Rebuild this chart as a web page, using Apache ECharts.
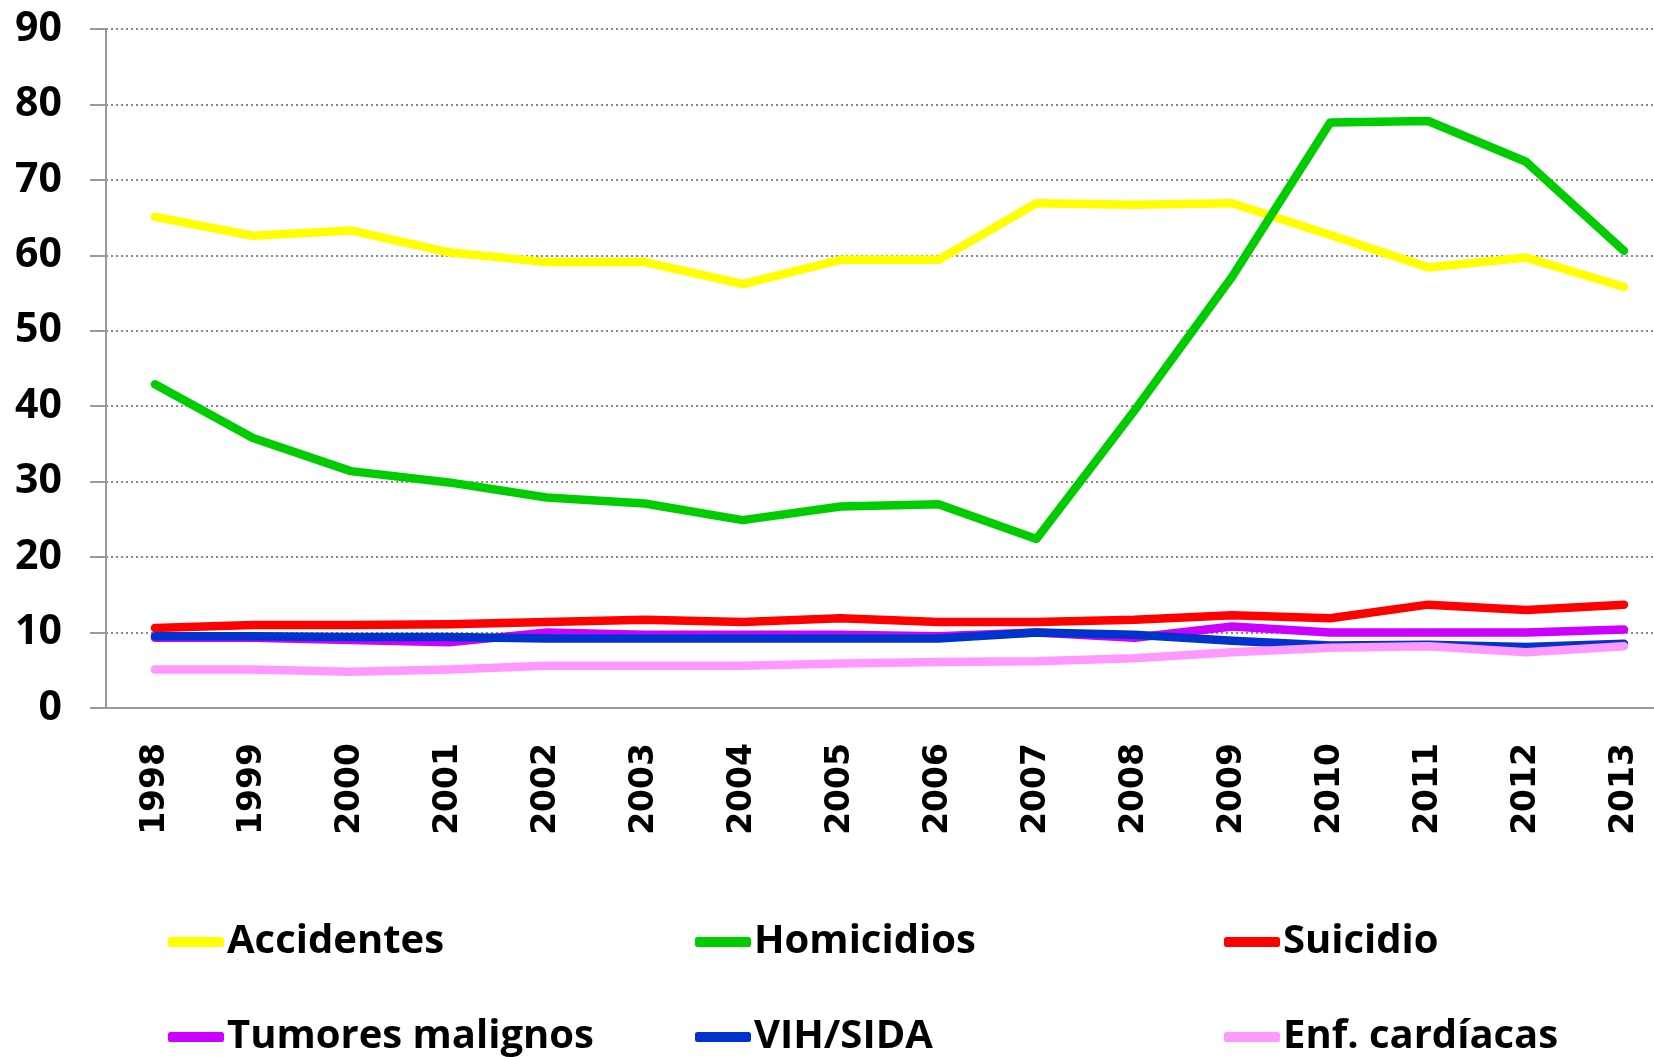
<!DOCTYPE html>
<html>
<head>
<meta charset="utf-8">
<script src="https://cdn.jsdelivr.net/npm/echarts@6/dist/echarts.min.js"></script>
<style>html,body{margin:0;padding:0;background:#fff;overflow:hidden}#c{width:1673px;height:1057px}</style>
</head>
<body>
<div id="c"></div>
<script>
const years = ['1998','1999','2000','2001','2002','2003','2004','2005','2006','2007','2008','2009','2010','2011','2012','2013'];
const accidentes = [65.1,62.6,63.3,60.4,59.1,59.1,56.2,59.4,59.4,66.9,66.7,66.9,62.7,58.4,59.7,55.8];
const homicidios = [42.9,35.8,31.4,29.9,27.9,27.1,24.9,26.7,27.0,22.4,39.4,57.2,77.6,77.8,72.4,60.6];
const suicidio = [10.6,11.0,11.0,11.1,11.4,11.7,11.4,11.9,11.4,11.4,11.7,12.3,11.9,13.7,13.0,13.7];
const tumores = [9.3,9.3,9.0,8.7,10.0,9.7,9.7,9.7,9.5,10.0,9.3,10.8,10.0,10.0,10.0,10.4];
const vih = [9.5,9.5,9.4,9.4,9.2,9.2,9.2,9.2,9.2,10.0,9.7,8.9,8.3,8.4,8.1,8.5];
const cardiacas = [5.1,5.1,4.8,5.1,5.6,5.6,5.6,5.9,6.1,6.2,6.6,7.4,8.0,8.2,7.4,8.2];
const names = ['Accidentes','Homicidios','Suicidio','Tumores malignos','VIH/SIDA','Enf. cardíacas'];
const colors = ['#FFFF00','#00CC00','#FF0000','#CC00FF','#0033CC','#FF99FF'];
const values = [accidentes, homicidios, suicidio, tumores, vih, cardiacas];

const chart = echarts.init(document.getElementById('c'), null, {renderer:'canvas'});
const legendPos = [[168,922],[695,922],[1224,922],[168,1017],[695,1017],[1224,1017]];
const legends = names.map((n,i)=>({
  data:[n], left:legendPos[i][0], top:legendPos[i][1], itemWidth:56, itemHeight:10, itemGap:0, padding:0,
  icon:'roundRect',
  textStyle:{fontFamily:'Open Sans',fontWeight:'bold',fontSize:40,color:'#000',padding:[0,0,0,-2]}
}));
chart.setOption({
  animation:false,
  legend: legends,
  grid:{left:106, top:29, bottom:349, right:0},
  xAxis:{type:'category', data:years, boundaryGap:true,
    axisLine:{lineStyle:{color:'#999',width:2}},
    axisTick:{show:false},
    axisLabel:{rotate:90, margin:35, fontFamily:'DejaVu Sans', fontWeight:'bold', fontSize:33, color:'#000'}},
  yAxis:{type:'value', min:0, max:90, interval:10,
    axisLine:{show:true, lineStyle:{color:'#999',width:2}},
    axisTick:{show:true, length:16, lineStyle:{color:'#999',width:2}},
    splitLine:{lineStyle:{color:'#888',type:[2,3],width:2}},
    axisLabel:{margin:44, fontFamily:'Open Sans', fontWeight:'bold', fontSize:41, color:'#000'}},
  series: names.map((n,i)=>({
    name:n, type:'line', data:values[i], showSymbol:false, symbol:'none',
    lineStyle:{color:colors[i], width:8.5, cap:'round', join:'round'},
    itemStyle:{color:colors[i]}
  }))
});
</script>
</body>
</html>
